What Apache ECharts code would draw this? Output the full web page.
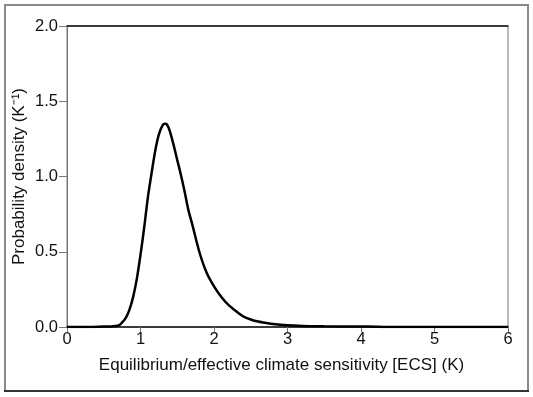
<!DOCTYPE html>
<html>
<head>
<meta charset="utf-8">
<script src="https://cdn.jsdelivr.net/npm/echarts@6/dist/echarts.min.js"></script>
<style>html,body{margin:0;padding:0;background:#fff}#c{width:533px;height:397px}</style>
</head>
<body>
<div id="c"></div>
<script>
const ecsValues = [0, 0.3, 0.5, 0.6, 0.7, 0.75, 0.8, 0.85, 0.9, 0.95, 1.0, 1.05, 1.1, 1.15, 1.2, 1.25, 1.3, 1.33, 1.36, 1.4, 1.45, 1.5, 1.55, 1.6, 1.65, 1.7, 1.8, 1.9, 2.0, 2.1, 2.2, 2.3, 2.4, 2.5, 2.6, 2.7, 2.8, 3.0, 3.2, 3.5, 4.0, 4.2, 4.3, 6.0];
const densityValues = [0, 0, 0.003, 0.004, 0.01, 0.03, 0.06, 0.115, 0.2, 0.32, 0.48, 0.66, 0.86, 1.02, 1.17, 1.28, 1.34, 1.35, 1.345, 1.30, 1.21, 1.11, 1.01, 0.90, 0.78, 0.69, 0.50, 0.36, 0.27, 0.20, 0.145, 0.105, 0.07, 0.05, 0.036, 0.028, 0.02, 0.011, 0.007, 0.005, 0.003, 0.002, 0, 0];
const xTicks = [0, 1, 2, 3, 4, 5, 6];
const yTicks = [0.0, 0.5, 1.0, 1.5, 2.0];
const xTitle = 'Equilibrium/effective climate sensitivity [ECS] (K)';
const yTitle = 'Probability density (K\u207B\u00B9)';

const chart = echarts.init(document.getElementById('c'), null, {renderer: 'canvas'});
const font = 'Liberation Sans, Arial, sans-serif';
chart.setOption({
  animation: false,
  backgroundColor: '#fff',
  grid: {left: 67, right: 25, top: 26, bottom: 70, show: true, borderColor: '#777', borderWidth: 1},
  graphic: [
    {type: 'line', shape: {x1: 5, y1: 5, x2: 528, y2: 5}, style: {stroke: '#8a8a8a', lineWidth: 2}},
    {type: 'line', shape: {x1: 5, y1: 4, x2: 5, y2: 391}, style: {stroke: '#8a8a8a', lineWidth: 2}},
    {type: 'line', shape: {x1: 528, y1: 4, x2: 528, y2: 391}, style: {stroke: '#8a8a8a', lineWidth: 2}},
    {type: 'line', shape: {x1: 4, y1: 391, x2: 529, y2: 391}, style: {stroke: '#333', lineWidth: 2}}
  ],
  xAxis: [{
    type: 'value', min: 0, max: 6, interval: 1,
    name: xTitle, nameLocation: 'middle', nameGap: 30, nameMoveOverlap: false,
    nameTextStyle: {fontFamily: font, fontSize: 17, color: '#111', padding: [0, 12, 0, 0]},
    axisLine: {show: true, lineStyle: {color: '#111', width: 1.5}},
    axisTick: {show: true, length: 5, lineStyle: {color: '#777'}},
    axisLabel: {fontFamily: font, fontSize: 16.5, color: '#111', margin: 4,
      formatter: v => xTicks.includes(v) ? String(v) : ''},
    splitLine: {show: false}
  }, {
    type: 'value', min: 0, max: 6, position: 'top',
    axisLine: {show: true, lineStyle: {color: '#111', width: 1.5}},
    axisTick: {show: false}, axisLabel: {show: false}, splitLine: {show: false}
  }],
  yAxis: {
    type: 'value', min: 0, max: 2, interval: 0.5,
    name: yTitle, nameLocation: 'middle', nameGap: 39, nameMoveOverlap: false,
    nameTextStyle: {fontFamily: font, fontSize: 17, color: '#111'},
    axisLine: {show: true, lineStyle: {color: '#777', width: 1}},
    axisTick: {show: true, length: 8, lineStyle: {color: '#777'}},
    axisLabel: {fontFamily: font, fontSize: 16.5, color: '#111', margin: 9,
      formatter: v => yTicks.includes(v) ? v.toFixed(1) : ''},
    splitLine: {show: false}
  },
  series: [{
    type: 'line',
    data: ecsValues.map((x, i) => [x, densityValues[i]]),
    smooth: 0.3,
    showSymbol: false,
    lineStyle: {color: '#000', width: 2.5},
    z: 5
  }]
});
</script>
</body>
</html>
